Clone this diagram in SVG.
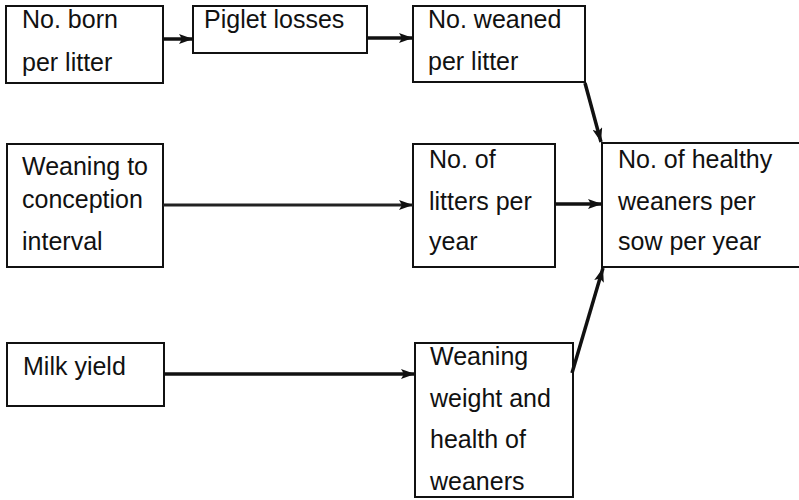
<svg xmlns="http://www.w3.org/2000/svg" width="799" height="500" viewBox="0 0 799 500">
<defs>
<marker id="ah" viewBox="0 0 14 10" refX="14" refY="5" markerWidth="14" markerHeight="10" markerUnits="userSpaceOnUse" orient="auto">
<path d="M0,0 L14,5 L0,10 L3,5 Z" fill="#111"/>
</marker>
<style>
.box{fill:#fff;stroke:#111;stroke-width:2}
.t{font-family:"Liberation Sans",Arial,sans-serif;font-size:25px;fill:#111}
.c{stroke:#111;stroke-width:3.5;fill:none;marker-end:url(#ah)}
.c2{stroke:#222;stroke-width:3;fill:none;marker-end:url(#ah)}
</style>
</defs>
<rect width="799" height="500" fill="#fff"/>
<g id="born">
<rect class="box" x="6" y="6" width="157" height="77"/>
<text class="t" x="22" y="28">No. born</text>
<text class="t" x="22" y="71">per litter</text>
</g>
<g id="losses">
<rect class="box" x="193" y="6" width="174" height="47"/>
<text class="t" x="204" y="28">Piglet losses</text>
</g>
<g id="weaned">
<rect class="box" x="413" y="6" width="172" height="76"/>
<text class="t" x="428" y="28">No. weaned</text>
<text class="t" x="428" y="70">per litter</text>
</g>
<g id="wci">
<rect class="box" x="7" y="144" width="156" height="123"/>
<text class="t" x="22" y="175">Weaning to</text>
<text class="t" x="22" y="208">conception</text>
<text class="t" x="22" y="250">interval</text>
</g>
<g id="litters">
<rect class="box" x="413" y="144" width="142" height="123"/>
<text class="t" x="429" y="168">No. of</text>
<text class="t" x="429" y="210">litters per</text>
<text class="t" x="429" y="250">year</text>
</g>
<g id="healthy">
<rect class="box" x="602" y="143" width="200" height="124"/>
<text class="t" x="618" y="168">No. of healthy</text>
<text class="t" x="618" y="210">weaners per</text>
<text class="t" x="618" y="250">sow per year</text>
</g>
<g id="milk">
<rect class="box" x="7" y="343" width="157" height="63"/>
<text class="t" x="23" y="375">Milk yield</text>
</g>
<g id="weight">
<rect class="box" x="415" y="343" width="158" height="154"/>
<text class="t" x="430" y="365">Weaning</text>
<text class="t" x="430" y="407">weight and</text>
<text class="t" x="430" y="448">health of</text>
<text class="t" x="430" y="490">weaners</text>
</g>
<g id="connectors">
<line class="c" x1="163" y1="39" x2="193" y2="39"/>
<line class="c" x1="367" y1="38" x2="413" y2="38"/>
<line class="c" x1="585" y1="83" x2="601" y2="142"/>
<line class="c2" x1="163" y1="205" x2="413" y2="205"/>
<line class="c" x1="555" y1="204" x2="602" y2="204"/>
<line class="c" x1="164" y1="374" x2="415" y2="374"/>
<line class="c" x1="572" y1="373" x2="603" y2="268"/>
</g>
</svg>
